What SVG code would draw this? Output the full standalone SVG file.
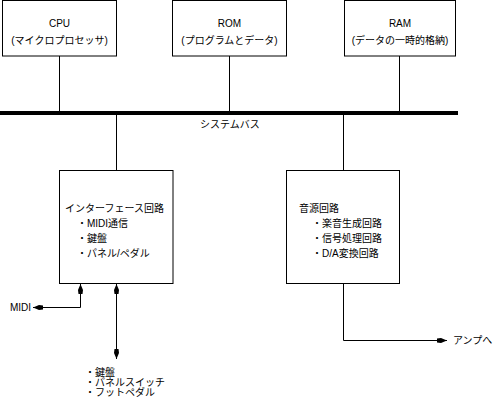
<svg xmlns="http://www.w3.org/2000/svg" width="501" height="404" viewBox="0 0 501 404">
<style>
.box{fill:#fff;stroke:#000;stroke-width:1}
.ln{fill:none;stroke:#000;stroke-width:1}
text{font-family:"Liberation Sans","Noto Sans CJK JP",sans-serif;font-size:10px;fill:#000}
.c{text-anchor:middle}
</style>
<defs>
<marker id="ah" viewBox="0 -3 10 6" refX="10" refY="0" markerWidth="10" markerHeight="6" markerUnits="userSpaceOnUse" orient="auto-start-reverse">
<path d="M10,0 L4,-2.5 L0,-2 L0,2 L4,2.5 Z" fill="#000"/>
</marker>
</defs>
<g id="connectors">
<line x1="0" y1="113" x2="458" y2="113" stroke="#000" stroke-width="4"/>
<line class="ln" x1="59.5" y1="56" x2="59.5" y2="111"/>
<line class="ln" x1="229.5" y1="56" x2="229.5" y2="111"/>
<line class="ln" x1="399.5" y1="56" x2="399.5" y2="111"/>
<line class="ln" x1="116.5" y1="115" x2="116.5" y2="170"/>
<line class="ln" x1="343.5" y1="115" x2="343.5" y2="170"/>
<path class="ln" d="M80.5,284 V307.5 H33" marker-start="url(#ah)" marker-end="url(#ah)"/>
<path class="ln" d="M116.5,284 V359" marker-start="url(#ah)" marker-end="url(#ah)"/>
<path class="ln" d="M343.5,283 V340.5 H447" marker-end="url(#ah)"/>
<text x="200" y="128">システムバス</text>
<text x="10" y="311">MIDI</text>
<text x="453" y="344">アンプへ</text>
</g>
<g id="cpu">
<rect class="box" x="2.5" y="0.5" width="114" height="55.5"/>
<text class="c" x="59.5" y="27">CPU</text>
<text class="c" x="59.5" y="44">(マイクロプロセッサ)</text>
</g>
<g id="rom">
<rect class="box" x="172.5" y="0.5" width="114" height="55.5"/>
<text class="c" x="229.5" y="27">ROM</text>
<text class="c" x="229.5" y="44">(プログラムとデータ)</text>
</g>
<g id="ram">
<rect class="box" x="344.5" y="0.5" width="111" height="55.5"/>
<text class="c" x="400" y="27">RAM</text>
<text class="c" x="400" y="44">(データの一時的格納)</text>
</g>
<g id="interface">
<rect class="box" x="59.5" y="170.5" width="113.5" height="113"/>
<text x="65" y="212">インターフェース回路</text>
<text x="77" y="227">・MIDI通信</text>
<text x="77" y="242">・鍵盤</text>
<text x="77" y="257">・パネル/ペダル</text>
</g>
<g id="sound">
<rect class="box" x="286.5" y="170.5" width="113" height="113"/>
<text x="299" y="212">音源回路</text>
<text x="312" y="227">・楽音生成回路</text>
<text x="312" y="242">・信号処理回路</text>
<text x="312" y="257">・D/A変換回路</text>
</g>
<g id="inputs">
<text x="85" y="376">・鍵盤</text>
<text x="85" y="386">・パネルスイッチ</text>
<text x="85" y="396">・フットペダル</text>
</g>
</svg>
